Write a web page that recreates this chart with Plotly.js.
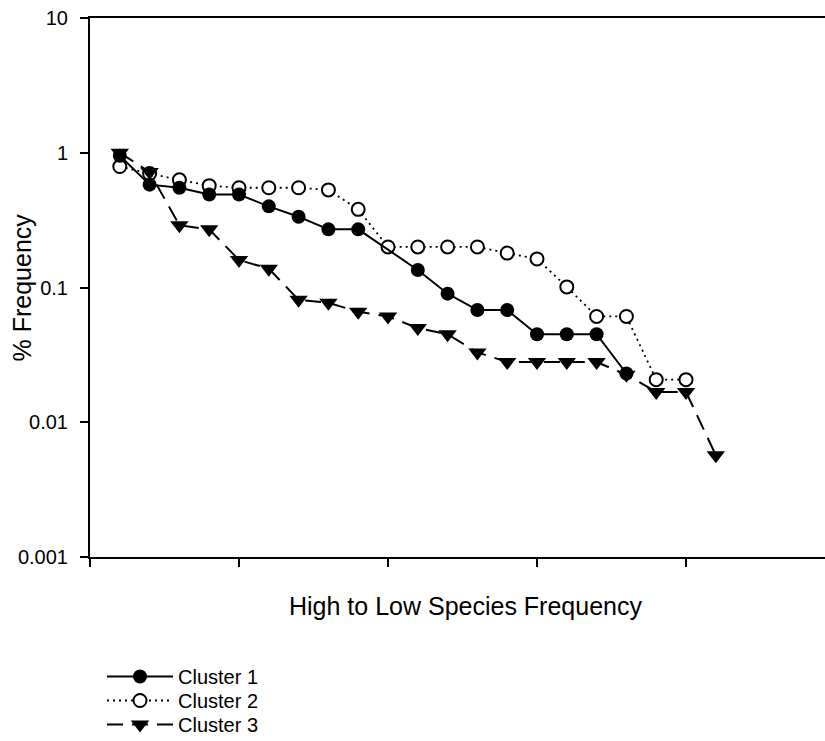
<!DOCTYPE html>
<html>
<head>
<meta charset="utf-8">
<script src="https://cdn.plot.ly/plotly-3.0.1.min.js"></script>
<style>
html, body { margin: 0; padding: 0; overflow: hidden; background: #fff; }
#chart { width: 845px; height: 741px; }
</style>
</head>
<body>
<div id="chart"></div>
<script>
// Rank positions (high to low species frequency)
const rank = [1,2,3,4,5,6,7,8,9,10,11,12,13,14,15,16,17,18,19,20,21];

// % Frequency per cluster
const cluster1 = [0.95,0.58,0.55,0.49,0.49,0.40,0.335,0.27,0.27,null,0.135,0.090,0.068,0.068,0.045,0.045,0.045,0.023,null,null,null];
const cluster2 = [0.79,0.70,0.63,0.57,0.55,0.55,0.55,0.53,0.38,0.20,0.20,0.20,0.20,0.18,0.163,0.101,0.061,0.061,0.0207,0.0207,null];
const cluster3 = [1.0,0.72,0.29,0.27,0.16,0.138,0.081,0.077,0.066,0.061,0.050,0.045,0.033,0.028,0.028,0.028,0.028,0.0225,0.0168,0.0168,0.0057];

const seriesNames = ["Cluster 1", "Cluster 2", "Cluster 3"];
const xTicks = [0,5,10,15,20,25];
const yTickVals = [0.001,0.01,0.1,1,10];
const yTickText = ["0.001","0.01","0.1","1","10"];

const FONT = "Liberation Sans, Arial, Helvetica, sans-serif";

const traces = [
  {
    x: rank, y: cluster2, name: seriesNames[1], type: "scatter", mode: "lines+markers",
    line: {color: "#000", width: 1.8, dash: "2px,4px"},
    marker: {symbol: "circle", size: 13, color: "#fff", line: {color: "#000", width: 2}},
    legend: "legend2"
  },
  {
    x: rank, y: cluster1, name: seriesNames[0], type: "scatter", mode: "lines+markers",
    connectgaps: true,
    line: {color: "#000", width: 2},
    marker: {symbol: "circle", size: 14, color: "#000", line: {color: "#000", width: 0}},
    legend: "legend"
  },
  {
    x: rank, y: cluster3, name: seriesNames[2], type: "scatter", mode: "lines+markers",
    line: {color: "#000", width: 2, dash: "16px,9px"},
    marker: {symbol: "triangle-down", size: 16, color: "#000", line: {color: "#000", width: 0}},
    legend: "legend3"
  }
];

function legendAt(topY) {
  return {
    xref: "container", yref: "container",
    x: 102/845, y: 1 - topY/741, xanchor: "left", yanchor: "top",
    font: {family: FONT, size: 20, color: "#000"},
    itemwidth: 66, bgcolor: "rgba(0,0,0,0)", borderwidth: 0
  };
}

const layout = {
  width: 845, height: 741,
  margin: {l: 90, r: 10, t: 18, b: 184, autoexpand: false},
  paper_bgcolor: "#fff", plot_bgcolor: "#fff",
  font: {family: FONT, color: "#000", size: 20},
  showlegend: true,
  legend: legendAt(657),
  legend2: legendAt(681),
  legend3: legendAt(705),
  xaxis: {
    range: [0, 25], tickmode: "array", tickvals: xTicks,
    showticklabels: false, ticks: "outside", ticklen: 8, tickwidth: 2, tickcolor: "#000",
    showline: true, linecolor: "#000", linewidth: 2, mirror: true,
    showgrid: false, zeroline: false, fixedrange: true, automargin: false
  },
  yaxis: {
    type: "log", range: [-3, 1], tickmode: "array", tickvals: yTickVals, ticktext: yTickText,
    ticks: "outside", ticklen: 8, tickwidth: 2, tickcolor: "#000",
    tickfont: {family: FONT, size: 20, color: "#000"}, ticklabelstandoff: 8,
    showline: true, linecolor: "#000", linewidth: 2,
    showgrid: false, zeroline: false, fixedrange: true, automargin: false
  },
  annotations: [
    {text: "High to Low Species Frequency", xref: "paper", yref: "paper",
     x: (465-90)/745, y: (557-606)/539, xanchor: "center", yanchor: "middle",
     showarrow: false, font: {family: FONT, size: 25, color: "#000"}},
    {text: "% Frequency", xref: "paper", yref: "paper",
     x: (21-90)/745, y: 0.5, xanchor: "center", yanchor: "middle", textangle: -90,
     showarrow: false, font: {family: FONT, size: 25, color: "#000"}}
  ]
};

Plotly.newPlot("chart", traces, layout, {displayModeBar: false, staticPlot: true});
</script>
</body>
</html>
